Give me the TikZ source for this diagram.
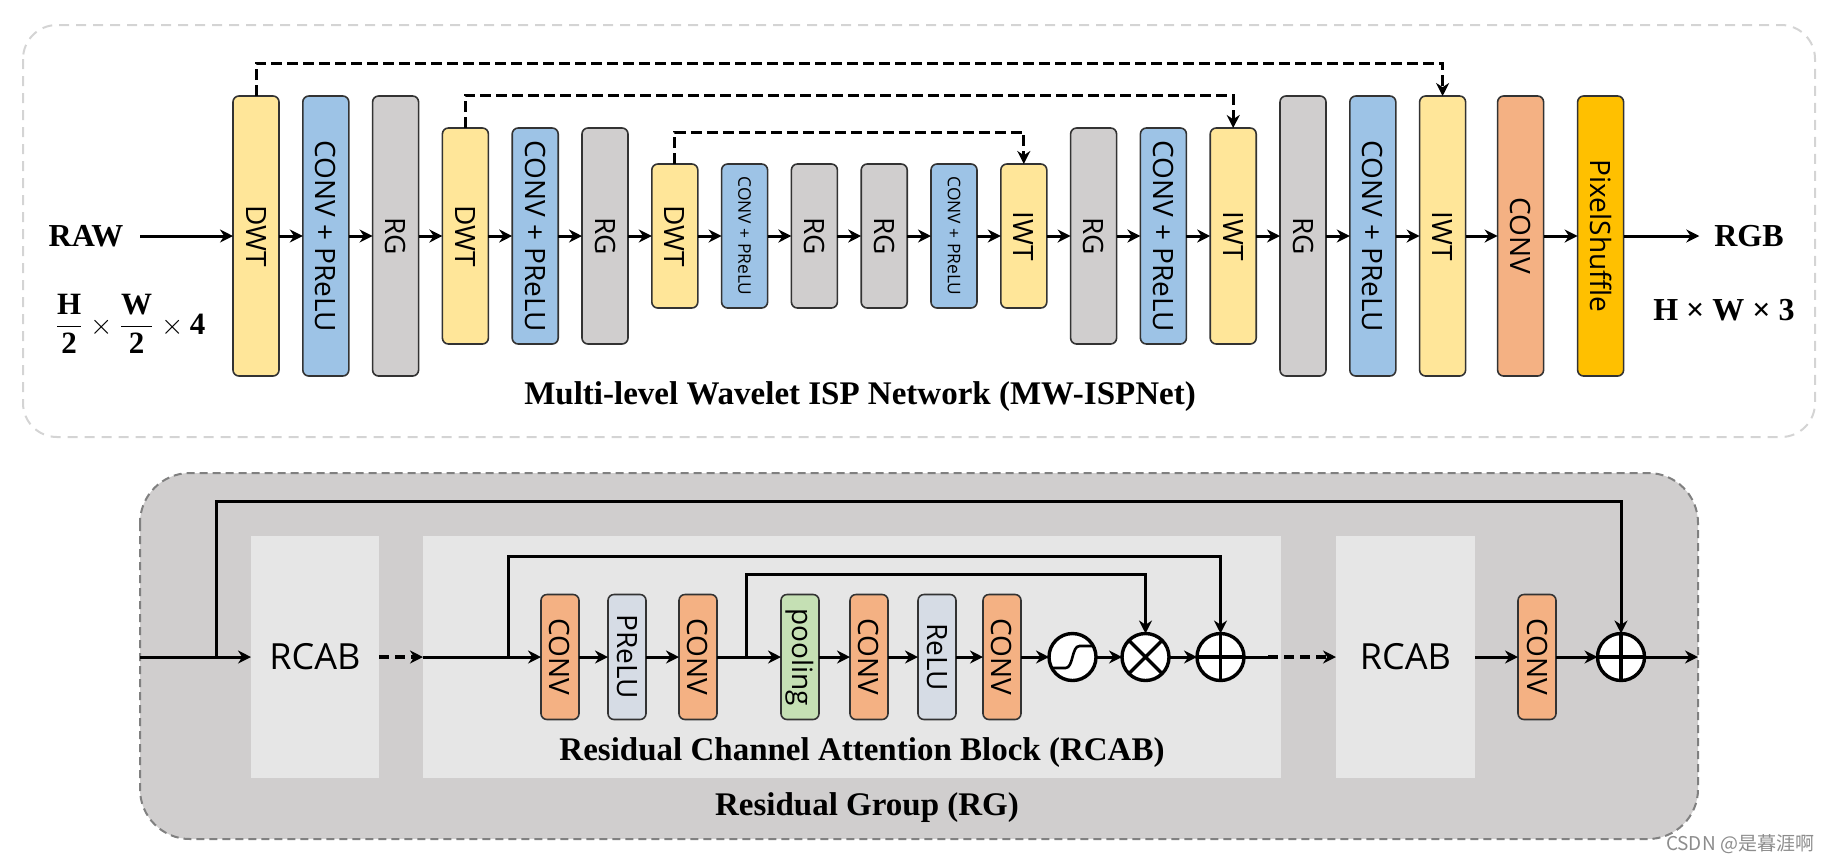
\documentclass[tikz,border=0pt]{standalone}
\usepackage{fontspec}
\setmainfont{Liberation Serif}
\setsansfont{Open Sans}
\newfontfamily\cjk{Noto Sans CJK SC}
\usepackage{amsmath}
\usepackage{graphicx}
\usepackage{tikz}
\usetikzlibrary{arrows.meta}
\usetikzlibrary{positioning}

\definecolor{wavelet}{HTML}{FFE699}
\definecolor{convblue}{HTML}{9DC3E6}
\definecolor{rggray}{HTML}{D0CECE}
\definecolor{convorange}{HTML}{F4B183}
\definecolor{shufflegold}{HTML}{FFC000}
\definecolor{actgray}{HTML}{D6DCE5}
\definecolor{poolgreen}{HTML}{C5E0B4}
\definecolor{rcabgray}{HTML}{E6E6E6}
\definecolor{framegray}{HTML}{D4D4D4}

\newcommand{\rotlabel}[1]{\rotatebox{-90}{#1}}

\begin{document}
\begin{tikzpicture}[x=0.5pt, y=-0.5pt,
                font=\sffamily\fontsize{14}{16}\selectfont,
                block/.style={rectangle, rounded corners=3pt, draw=black!80, line width=0.8pt, inner sep=0pt, outer sep=0pt, minimum width=23pt},
                tall/.style={block, minimum height=140pt},
                medium/.style={block, minimum height=108pt},
                short/.style={block, minimum height=72pt},
                smallfont/.style={font=\sffamily\fontsize{8.7}{10}\selectfont},
                unit/.style={block, minimum width=19pt, minimum height=62.5pt},
                op/.style={circle, draw, line width=1.7pt, fill=white, minimum size=23.5pt, inner sep=0pt, outer sep=0pt},
                rcab/.style={rectangle, fill=rcabgray, inner sep=0pt, outer sep=0pt, minimum height=121pt, font=\sffamily\fontsize{18}{20}\selectfont},
                io/.style={font=\rmfamily\bfseries\fontsize{16}{18}\selectfont},
                caption/.style={font=\rmfamily\bfseries\fontsize{16.5}{19}\selectfont},
                arrow/.style={draw, line width=1.5pt, -{Stealth[length=6.5pt,width=6.5pt]}},
                skip/.style={draw, line width=1.5pt, dash pattern=on 5.5pt off 2.5pt, -{Stealth[length=6.5pt,width=6.5pt]}},
                dasharrow/.style={draw, line width=1.8pt, dash pattern=on 5pt off 3pt, -{Stealth[length=6.5pt,width=6.5pt]}},
                line/.style={draw, line width=1.5pt}
            ]
            \useasboundingbox (0,0) rectangle (1830,864);

            % MW-ISPNet
            \draw[framegray, line width=1pt, dash pattern=on 5pt off 3.5pt, rounded corners=17pt] (23,25) rectangle (1815,437);
            \node[tall, fill=wavelet] (dwt1) at (256,236) {\rotlabel{DWT}};
            \node[tall, fill=convblue, right=11.9pt of dwt1] (cp1) {\rotlabel{CONV + PReLU}};
            \node[tall, fill=rggray, right=11.9pt of cp1] (rg1) {\rotlabel{RG}};
            \node[medium, fill=wavelet, right=11.9pt of rg1] (dwt2) {\rotlabel{DWT}};
            \node[medium, fill=convblue, right=11.9pt of dwt2] (cp2) {\rotlabel{CONV + PReLU}};
            \node[medium, fill=rggray, right=11.9pt of cp2] (rg2) {\rotlabel{RG}};
            \node[short, fill=wavelet, right=11.9pt of rg2] (dwt3) {\rotlabel{DWT}};
            \node[short, smallfont, fill=convblue, right=11.9pt of dwt3] (cp3) {\rotlabel{CONV + PReLU}};
            \node[short, fill=rggray, right=11.9pt of cp3] (rg3) {\rotlabel{RG}};
            \node[short, fill=rggray, right=11.9pt of rg3] (rg4) {\rotlabel{RG}};
            \node[short, smallfont, fill=convblue, right=11.9pt of rg4] (cp4) {\rotlabel{CONV + PReLU}};
            \node[short, fill=wavelet, right=11.9pt of cp4] (iwt3) {\rotlabel{IWT}};
            \node[medium, fill=rggray, right=11.9pt of iwt3] (rg5) {\rotlabel{RG}};
            \node[medium, fill=convblue, right=11.9pt of rg5] (cp5) {\rotlabel{CONV + PReLU}};
            \node[medium, fill=wavelet, right=11.9pt of cp5] (iwt2) {\rotlabel{IWT}};
            \node[tall, fill=rggray, right=11.9pt of iwt2] (rg6) {\rotlabel{RG}};
            \node[tall, fill=convblue, right=11.9pt of rg6] (cp6) {\rotlabel{CONV + PReLU}};
            \node[tall, fill=wavelet, right=11.9pt of cp6] (iwt1) {\rotlabel{IWT}};
            \node[tall, fill=convorange, right=16pt of iwt1] (conv) {\rotlabel{CONV}};
            \node[tall, fill=shufflegold, right=17pt of conv] (shuffle) {\rotlabel{PixelShuffle}};

            \node[io] (raw) at (86,236) {RAW};
            \node[font=\fontsize{15.5}{18}\selectfont] (insize) at (130,324) {$\mathbf{\dfrac{H}{2}}\times\mathbf{\dfrac{W}{2}}\times\mathbf{4}$};
            \node[io] (rgb) at (1749,236) {RGB};
            \node[io] (outsize) at (1724,310) {H × W × 3};
            \node[caption] (ispcap) at (860,397) {Multi-level Wavelet ISP Network (MW-ISPNet)};

            \path[arrow, shorten <=5pt] (raw) -- (dwt1);
            \path[arrow] (dwt1) -- (cp1);
            \path[arrow] (cp1) -- (rg1);
            \path[arrow] (rg1) -- (dwt2);
            \path[arrow] (dwt2) -- (cp2);
            \path[arrow] (cp2) -- (rg2);
            \path[arrow] (rg2) -- (dwt3);
            \path[arrow] (dwt3) -- (cp3);
            \path[arrow] (cp3) -- (rg3);
            \path[arrow] (rg3) -- (rg4);
            \path[arrow] (rg4) -- (cp4);
            \path[arrow] (cp4) -- (iwt3);
            \path[arrow] (iwt3) -- (rg5);
            \path[arrow] (rg5) -- (cp5);
            \path[arrow] (cp5) -- (iwt2);
            \path[arrow] (iwt2) -- (rg6);
            \path[arrow] (rg6) -- (cp6);
            \path[arrow] (cp6) -- (iwt1);
            \path[arrow] (iwt1) -- (conv);
            \path[arrow] (conv) -- (shuffle);
            \path[arrow, shorten >=4pt] (shuffle) -- (rgb);
            \path[skip] (dwt1.north) -- ++(0,-33) -| (iwt1.north);
            \path[skip] (dwt2.north) -- ++(0,-33) -| (iwt2.north);
            \path[skip] (dwt3.north) -- ++(0,-32) -| (iwt3.north);

            % Residual Group
            \draw[draw=black!50, fill=rggray, line width=1pt, dash pattern=on 4pt off 2.5pt, rounded corners=25pt] (140,473) rectangle (1698,839);
            \node[rcab, minimum width=64pt] (rcab1) at (315,657) {RCAB};
            \node[rcab, minimum width=429pt] (rcab2) at (852,657) {};
            \node[rcab, minimum width=69.5pt] (rcab3) at (1405.5,657) {RCAB};

            \node[unit, fill=convorange] (c1) at (560,657) {\rotlabel{CONV}};
            \node[unit, fill=actgray, right=14.5pt of c1] (pr) {\rotlabel{PReLU}};
            \node[unit, fill=convorange, right=16.5pt of pr] (c2) {\rotlabel{CONV}};
            \node[unit, fill=poolgreen, right=32pt of c2] (pool) {\rotlabel{pooling}};
            \node[unit, fill=convorange, right=15.5pt of pool] (c3) {\rotlabel{CONV}};
            \node[unit, fill=actgray, right=15pt of c3] (relu) {\rotlabel{ReLU}};
            \node[unit, fill=convorange, right=13.5pt of relu] (c4) {\rotlabel{CONV}};
            \node[op, right=14pt of c4] (sig) {};
            \node[op, right=13pt of sig] (mul) {};
            \node[op, right=14pt of mul] (add1) {};
            \node[unit, fill=convorange] (c5) at (1537,657) {\rotlabel{CONV}};
            \node[op] (add2) at (1621,657) {};

            \draw[line width=1.7pt] (mul.north east) -- (mul.south west) (mul.north west) -- (mul.south east);
            \draw[line width=1.7pt] (add1.north) -- (add1.south) (add1.west) -- (add1.east);
            \draw[line width=1.7pt] (add2.north) -- (add2.south) (add2.west) -- (add2.east);
            \begin{scope}[shift={(sig.center)}]
                \draw[line width=1.3pt] (-20,11) -- (-7,11) .. controls (1,11) and (-1,-11) .. (7,-11) -- (20,-11);
            \end{scope}

            \node[caption] (rcabcap) at (862,753) {Residual Channel Attention Block (RCAB)};
            \node[caption] (rgcap) at (867,808) {Residual Group (RG)};

            \coordinate (rgin) at (140,657);
            \coordinate (br0) at (216,657);
            \coordinate (br1) at (508,657);
            \coordinate (br2) at (746,657);
            \coordinate (gap1) at (1268,657);
            \coordinate (rgout) at (1698,657);

            \path[arrow] (rgin) -- (rcab1);
            \path[arrow] (br0) -- ++(0,-156) -| (add2.north);
            \path[dasharrow] (rcab1) -- (rcab2);
            \path[arrow] (rcab2.west) -- (c1);
            \path[arrow] (br1) -- ++(0,-101) -| (add1.north);
            \path[arrow] (c1) -- (pr);
            \path[arrow] (pr) -- (c2);
            \path[arrow] (c2) -- (pool);
            \path[arrow] (br2) -- ++(0,-83) -| (mul.north);
            \path[arrow] (pool) -- (c3);
            \path[arrow] (c3) -- (relu);
            \path[arrow] (relu) -- (c4);
            \path[arrow] (c4) -- (sig);
            \path[arrow] (sig) -- (mul);
            \path[arrow] (mul) -- (add1);
            \path[line] (add1) -- (gap1);
            \path[dasharrow] (gap1) -- (rcab3);
            \path[arrow] (rcab3) -- (c5);
            \path[arrow] (c5) -- (add2);
            \path[arrow] (add2) -- (rgout);

            \node[font=\cjk\fontsize{9.5}{11}\selectfont, text=black!45] (mark) at (1740,844) {CSDN @是暮涯啊};
        \end{tikzpicture}
\end{document}
